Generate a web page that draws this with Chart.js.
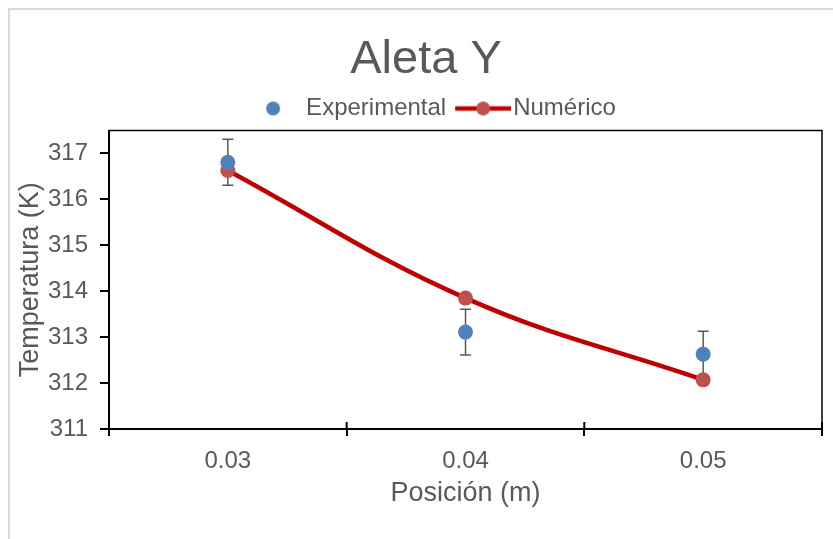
<!DOCTYPE html>
<html lang="en">
<head>
    <meta charset="UTF-8">
    <title>Aleta Y</title>
    <script src="https://cdn.jsdelivr.net/npm/chart.js"></script>
    <style>
        html, body {
            margin: 0;
            padding: 0;
            width: 833px;
            height: 539px;
            overflow: hidden;
            background: #ffffff;
        }
        #frame {
            position: absolute;
            left: 8px;
            top: 8px;
            width: 836px;
            height: 560px;
            border-left: 2px solid #d9d9d9;
            border-top: 2px solid #d9d9d9;
            box-sizing: border-box;
        }
        #chartBox {
            position: absolute;
            left: 8px;
            top: 8px;
            width: 836px;
            height: 540px;
        }
    </style>
</head>
<body>
    <div id="frame"></div>
    <div id="chartBox">
        <canvas id="myChart" width="836" height="540"></canvas>
    </div>

    <script>
        // datos
        const posiciones = ['0.03', '0.04', '0.05'];
        const experimental = [316.81, 313.11, 312.63];
        const errorExp = [0.5, 0.5, 0.5];
        const numerico = [316.63, 313.85, 312.07];
        const yTicks = [311, 312, 313, 314, 315, 316, 317];
        const yMin = 311;
        const yMax = 317.5;

        const textColor = '#595959';
        const blue = '#4f81bd';
        const red = '#c00000';
        const redMarker = '#c0504d';
        const fontFam = 'Liberation Sans';

        // iconos de la leyenda
        const expIcon = document.createElement('canvas');
        expIcon.width = 18; expIcon.height = 18;
        let c = expIcon.getContext('2d');
        c.fillStyle = blue;
        c.beginPath(); c.arc(9, 9, 7, 0, Math.PI * 2); c.fill();

        const numIcon = document.createElement('canvas');
        numIcon.width = 62; numIcon.height = 18;
        c = numIcon.getContext('2d');
        c.strokeStyle = red; c.lineWidth = 4.5;
        c.beginPath(); c.moveTo(6, 9); c.lineTo(62, 9); c.stroke();
        c.fillStyle = redMarker;
        c.beginPath(); c.arc(34, 9, 7, 0, Math.PI * 2); c.fill();
        const legendIcons = [expIcon, numIcon];

        // la leyenda de Excel queda un poco a la derecha del centro
        const legendShift = {
            id: 'legendShift',
            afterLayout(chart) {
                chart.legend.left += 8;
                chart.legend.right += 8;
            }
        };

        // marco del area de trazado + marcas del eje x que cruzan
        const frameLines = {
            id: 'frameLines',
            afterDraw(chart) {
                const { ctx, chartArea: a, scales } = chart;
                ctx.save();
                ctx.strokeStyle = '#000';
                ctx.lineWidth = 1.5;
                ctx.strokeRect(a.left, a.top, a.right - a.left, a.bottom - a.top);
                ctx.lineWidth = 2;
                ctx.beginPath();
                for (let i = 0; i <= posiciones.length; i++) {
                    const x = scales.x.getPixelForValue(i - 0.5);
                    ctx.moveTo(x, a.bottom);
                    ctx.lineTo(x, a.bottom - 7);
                }
                ctx.stroke();
                ctx.restore();
            }
        };

        // barras de error
        const errorBars = {
            id: 'errorBars',
            beforeDatasetsDraw(chart) {
                const { ctx, scales } = chart;
                ctx.save();
                ctx.strokeStyle = textColor;
                ctx.lineWidth = 1.5;
                experimental.forEach((v, i) => {
                    const x = scales.x.getPixelForValue(i);
                    const yTop = scales.y.getPixelForValue(v + errorExp[i]);
                    const yBot = scales.y.getPixelForValue(v - errorExp[i]);
                    ctx.beginPath();
                    ctx.moveTo(x, yTop); ctx.lineTo(x, yBot);
                    ctx.moveTo(x - 5.5, yTop); ctx.lineTo(x + 5.5, yTop);
                    ctx.moveTo(x - 5.5, yBot); ctx.lineTo(x + 5.5, yBot);
                    ctx.stroke();
                });
                ctx.restore();
            }
        };

        const ctx = document.getElementById('myChart').getContext('2d');
        const myChart = new Chart(ctx, {
            type: 'line',
            data: {
                labels: posiciones,
                datasets: [{
                    label: 'Experimental',
                    data: experimental,
                    showLine: false,
                    pointRadius: 7.5,
                    pointBackgroundColor: blue,
                    pointBorderWidth: 0,
                    borderColor: blue,
                    backgroundColor: blue
                }, {
                    label: 'Numérico',
                    data: numerico,
                    borderColor: red,
                    borderWidth: 4.5,
                    tension: 0.4,
                    pointRadius: 7.5,
                    pointBackgroundColor: redMarker,
                    pointBorderWidth: 0,
                    backgroundColor: redMarker
                }]
            },
            options: {
                responsive: false,
                animation: false,
                layout: {
                    padding: 0
                },
                plugins: {
                    title: {
                        display: true,
                        text: 'Aleta Y',
                        color: textColor,
                        font: { family: fontFam, size: 47, weight: 'normal', lineHeight: 1 },
                        padding: { top: 28.5, bottom: 0 }
                    },
                    legend: {
                        labels: {
                            usePointStyle: true,
                            pointStyleWidth: 42,
                            padding: 13,
                            color: textColor,
                            font: { family: fontFam, size: 24 },
                            generateLabels(chart) {
                                const items = Chart.defaults.plugins.legend.labels.generateLabels(chart);
                                items.forEach((it, i) => { it.pointStyle = legendIcons[i]; });
                                return items;
                            }
                        }
                    },
                    tooltip: { enabled: false }
                },
                scales: {
                    x: {
                        offset: true,
                        afterFit(s) { s.height = 119; },
                        grid: {
                            offset: true,
                            drawOnChartArea: false,
                            color: '#000',
                            lineWidth: 2,
                            tickLength: 7
                        },
                        border: { color: '#000', width: 2 },
                        ticks: {
                            color: textColor,
                            padding: 11,
                            font: { family: fontFam, size: 24 }
                        },
                        title: {
                            display: true,
                            text: 'Posición (m)',
                            color: textColor,
                            font: { family: fontFam, size: 27 },
                            padding: { top: 0, bottom: 38 }
                        }
                    },
                    y: {
                        min: yMin,
                        max: yMax,
                        afterFit(s) { s.width = 101; },
                        afterBuildTicks(s) {
                            s.ticks = yTicks.map(v => ({ value: v }));
                        },
                        grid: {
                            drawOnChartArea: false,
                            color: '#000',
                            lineWidth: 2,
                            tickLength: 9
                        },
                        border: { color: '#000', width: 2 },
                        ticks: {
                            color: textColor,
                            padding: 12,
                            font: { family: fontFam, size: 24 }
                        },
                        title: {
                            display: true,
                            text: 'Temperatura (K)',
                            color: textColor,
                            font: { family: fontFam, size: 27 },
                            padding: { top: 6, bottom: 0 }
                        }
                    },
                    yR: {
                        position: 'right',
                        min: yMin,
                        max: yMax,
                        afterFit(s) { s.width = 22; },
                        grid: { display: false },
                        border: { display: false },
                        ticks: { display: false }
                    }
                }
            },
            plugins: [errorBars, frameLines, legendShift]
        });
    </script>
</body>
</html>
